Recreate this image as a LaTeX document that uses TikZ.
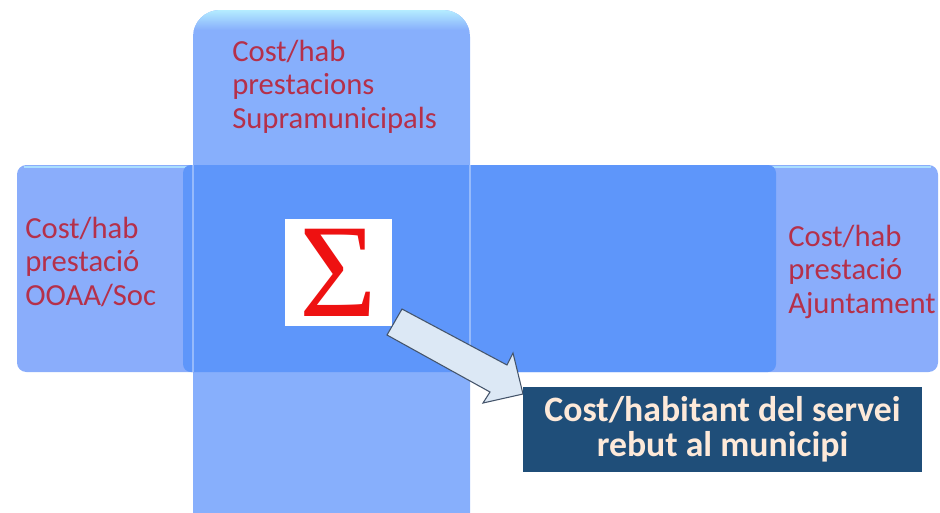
\documentclass[tikz,border=0pt]{standalone}
\usepackage{fontspec}
\setmainfont{Carlito}
\newfontfamily\sigmafont{Liberation Serif}
\definecolor{barlight}{HTML}{8AADFB}
\definecolor{vbar}{HTML}{87AFFC}
\definecolor{bardark}{HTML}{5E96FA}
\definecolor{labelred}{HTML}{B5304A}
\definecolor{sigred}{HTML}{EE1111}
\definecolor{arrowfill}{HTML}{DCE8F5}
\definecolor{arrowline}{HTML}{44546A}
\definecolor{resultbg}{HTML}{1F4E79}
\definecolor{resulttext}{HTML}{FDE9D9}
\definecolor{gloss}{HTML}{B4ECFF}
\begin{document}
\begin{tikzpicture}[x=0.75pt,y=-0.75pt,
  costlabel/.style={text=labelred, font=\fontsize{23}{25}\selectfont, align=left, inner sep=0pt, anchor=base west},
  sigmabox/.style={fill=white, inner sep=0pt, minimum width=80.25pt, minimum height=80.25pt},
  resultbox/.style={fill=resultbg, text=resulttext, font=\bfseries\fontsize{26.8}{26.5}\selectfont, align=center, inner sep=0pt, minimum width=299.25pt, minimum height=63.75pt},
  blockarrow/.style={draw=arrowline, fill=arrowfill, line width=0.8pt, line join=miter}]
\useasboundingbox (0,0) rectangle (940,512);
\begin{scope}
\clip (0,0) rectangle (940,512);
% horizontal bar
\fill[barlight, rounded corners=7pt] (17,165) rectangle (938,372);
\draw[gloss, line width=1.5pt, opacity=0.8] (24,166.5) -- (931,166.5);
% vertical bar
\fill[vbar, rounded corners=20pt] (193,10) rectangle (470,560);
\begin{scope}
\clip[rounded corners=20pt] (193,10) rectangle (470,560);
\shade[top color=gloss, bottom color=vbar] (193,10) rectangle (470,30);
\end{scope}
% dark middle band
\fill[bardark, rounded corners=6pt] (183,165) rectangle (776,372);
\draw[white, opacity=0.35, line width=0.8pt] (193,165) -- (193,372);
\draw[white, opacity=0.35, line width=0.8pt] (470,165) -- (470,372);
\end{scope}
% labels (anchor at the baseline of the last line)
\node[costlabel] (ooaa) at (25,305) {Cost/hab\\prestació\\OOAA/Soc};
\node[costlabel] (supra) at (232,128) {Cost/hab\\prestacions\\Supramunicipals};
\node[costlabel] (ajunt) at (788,313) {Cost/hab\\prestació\\Ajuntament};
% sigma
\node[sigmabox] (sigma) at (338.5,272.5) {\sigmafont\fontsize{100}{100}\selectfont\textcolor{sigred}{Σ}};
% arrow
\coordinate (tailtop) at (402,309);
\coordinate (tailbot) at (387,335);
\coordinate (tip) at (523,394);
\draw[blockarrow] (tailtop) -- (507,365) -- (513,353) -- (tip) -- (483,403) -- (490,392) -- (tailbot) -- cycle;
% result
\node[resultbox] (result) at (722.5,429.5) {Cost/habitant del servei\\rebut al municipi};
\end{tikzpicture}
\end{document}
